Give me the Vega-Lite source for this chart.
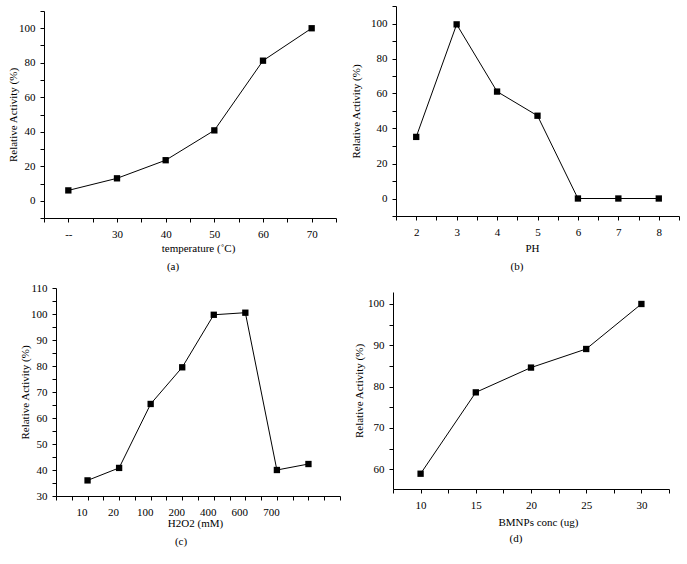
{
  "$schema": "https://vega.github.io/schema/vega-lite/v6.json",
  "background": "white",
  "padding": {"left": 7, "top": 0, "right": 5, "bottom": 5},
  "bounds": "flush",
  "columns": 2,
  "spacing": {"row": 70, "column": 53},
  "datasets": {
    "a": [
      {"temp": 20, "act": 6.0},
      {"temp": 30, "act": 13.0},
      {"temp": 40, "act": 23.5},
      {"temp": 50, "act": 40.8},
      {"temp": 60, "act": 81.2},
      {"temp": 70, "act": 100.0}
    ],
    "b": [
      {"ph": 2, "act": 35.2},
      {"ph": 3, "act": 99.5},
      {"ph": 4, "act": 61.1},
      {"ph": 5, "act": 47.3},
      {"ph": 6, "act": 0},
      {"ph": 7, "act": 0},
      {"ph": 8, "act": 0}
    ],
    "c": [
      {"idx": 1, "h2o2": "10", "act": 36.0},
      {"idx": 2, "h2o2": "20", "act": 40.8},
      {"idx": 3, "h2o2": "100", "act": 65.4},
      {"idx": 4, "h2o2": "200", "act": 79.5},
      {"idx": 5, "h2o2": "400", "act": 99.7},
      {"idx": 6, "h2o2": "600", "act": 100.5},
      {"idx": 7, "h2o2": "700", "act": 40.0},
      {"idx": 8, "h2o2": "", "act": 42.3}
    ],
    "d": [
      {"conc": 10, "act": 58.9},
      {"conc": 15, "act": 78.6},
      {"conc": 20, "act": 84.6},
      {"conc": 25, "act": 89.1},
      {"conc": 30, "act": 100.0}
    ]
  },
  "concat": [
    {
      "data": {"name": "a"},
      "width": 292,
      "height": 212,
      "title": {"text": "(a)", "orient": "bottom", "anchor": "middle", "frame": "group", "dx": -17, "offset": 8},
      "mark": {"type": "line", "color": "black", "strokeWidth": 1, "point": {"shape": "square", "filled": true, "size": 40, "color": "black", "opacity": 1}},
      "encoding": {
        "x": {"field": "temp", "type": "quantitative",
          "scale": {"domain": [15, 75], "nice": false, "zero": false},
          "axis": {"title": "temperature (˚C)", "titleX": 154, "values": [15, 20, 25, 30, 35, 40, 45, 50, 55, 60, 65, 70, 75],
            "labelExpr": "datum.value === 20 ? '--' : (datum.value % 10 === 0 ? '' + datum.value : '')"}},
        "y": {"field": "act", "type": "quantitative",
          "scale": {"domain": [-10, 110], "nice": false, "zero": false, "range": [212, 5]},
          "axis": {"title": "Relative Activity (%)", "values": [-10, 0, 10, 20, 30, 40, 50, 60, 70, 80, 90, 100, 110],
            "labelExpr": "datum.value % 20 === 0 ? '' + datum.value : ''", "titlePadding": 0}}
      }
    },
    {
      "data": {"name": "b"},
      "width": 286,
      "height": 210,
      "title": {"text": "(b)", "orient": "bottom", "anchor": "middle", "frame": "group", "dx": -19, "offset": 8},
      "mark": {"type": "line", "color": "black", "strokeWidth": 1, "point": {"shape": "square", "filled": true, "size": 40, "color": "black", "opacity": 1}},
      "encoding": {
        "x": {"field": "ph", "type": "quantitative",
          "scale": {"domain": [1.5, 8.5], "nice": false, "zero": false, "range": [3, 286]},
          "axis": {"title": "PH", "titleX": 139, "titlePadding": 5, "values": [1.5, 2, 2.5, 3, 3.5, 4, 4.5, 5, 5.5, 6, 6.5, 7, 7.5, 8, 8.5],
            "labelExpr": "datum.value % 1 === 0 ? '' + datum.value : ''"}},
        "y": {"field": "act", "type": "quantitative",
          "scale": {"domain": [-10, 110], "nice": false, "zero": false},
          "axis": {"title": "Relative Activity (%)", "offset": -3, "values": [-10, 0, 10, 20, 30, 40, 50, 60, 70, 80, 90, 100, 110],
            "labelExpr": "datum.value % 20 === 0 ? '' + datum.value : ''", "titlePadding": 9}}
      }
    },
    {
      "data": {"name": "c"},
      "width": 296,
      "height": 208,
      "title": {"text": "(c)", "orient": "bottom", "anchor": "middle", "frame": "group", "dx": -11, "offset": 8},
      "mark": {"type": "line", "color": "black", "strokeWidth": 1, "point": {"shape": "square", "filled": true, "size": 40, "color": "black", "opacity": 1}},
      "encoding": {
        "x": {"field": "idx", "type": "quantitative",
          "scale": {"domain": [0, 9], "nice": false, "zero": false, "range": [12, 296]},
          "axis": {"title": "H2O2 (mM)", "titleX": 151, "titlePadding": 0, "labelOffset": -6,
            "values": [0, 0.5, 1, 1.5, 2, 2.5, 3, 3.5, 4, 4.5, 5, 5.5, 6, 6.5, 7, 7.5, 8, 8.5, 9],
            "labelExpr": "(datum.value % 1 === 0 && datum.value >= 1 && datum.value <= 7) ? ['10','20','100','200','400','600','700'][datum.value - 1] : ''"}},
        "y": {"field": "act", "type": "quantitative",
          "scale": {"domain": [30, 110], "nice": false, "zero": false},
          "axis": {"title": "Relative Activity (%)", "offset": -12, "values": [30, 35, 40, 45, 50, 55, 60, 65, 70, 75, 80, 85, 90, 95, 100, 105, 110],
            "labelExpr": "datum.value % 10 === 0 ? '' + datum.value : ''", "titlePadding": 0}}
      }
    },
    {
      "data": {"name": "d"},
      "width": 276,
      "height": 201,
      "title": {"text": "(d)", "orient": "bottom", "anchor": "middle", "frame": "group", "dx": -15, "offset": 6},
      "mark": {"type": "line", "color": "black", "strokeWidth": 1, "point": {"shape": "square", "filled": true, "size": 40, "color": "black", "opacity": 1}},
      "encoding": {
        "x": {"field": "conc", "type": "quantitative",
          "scale": {"domain": [7.5, 32.5], "nice": false, "zero": false},
          "axis": {"title": "BMNPs conc (ug)", "titleX": 145, "titlePadding": 6, "values": [7.5, 10, 12.5, 15, 17.5, 20, 22.5, 25, 27.5, 30, 32.5],
            "labelExpr": "datum.value % 5 === 0 ? '' + datum.value : ''"}},
        "y": {"field": "act", "type": "quantitative",
          "scale": {"domain": [55.2, 102.9], "nice": false, "zero": false, "range": [201, 4]},
          "axis": {"title": "Relative Activity (%)", "values": [60, 65, 70, 75, 80, 85, 90, 95, 100],
            "labelExpr": "datum.value % 10 === 0 ? '' + datum.value : ''", "titlePadding": 3}}
      }
    }
  ],
  "config": {
    "view": {"stroke": null},
    "font": "Liberation Serif",
    "axis": {
      "grid": false,
      "domainColor": "black",
      "domainWidth": 1,
      "tickColor": "black",
      "tickWidth": 1,
      "tickSize": 4,
      "labelColor": "black",
      "labelFont": "Liberation Serif",
      "labelFontSize": 11,
      "labelPadding": 5,
      "labelFlush": false,
      "labelOverlap": false,
      "titleColor": "black",
      "titleFont": "Liberation Serif",
      "titleFontSize": 11,
      "titleFontWeight": "normal",
      "titlePadding": 3
    },
    "axisX": {"labelPadding": 6},
    "title": {"font": "Liberation Serif", "fontSize": 11, "fontWeight": "normal", "color": "black"}
  }
}
